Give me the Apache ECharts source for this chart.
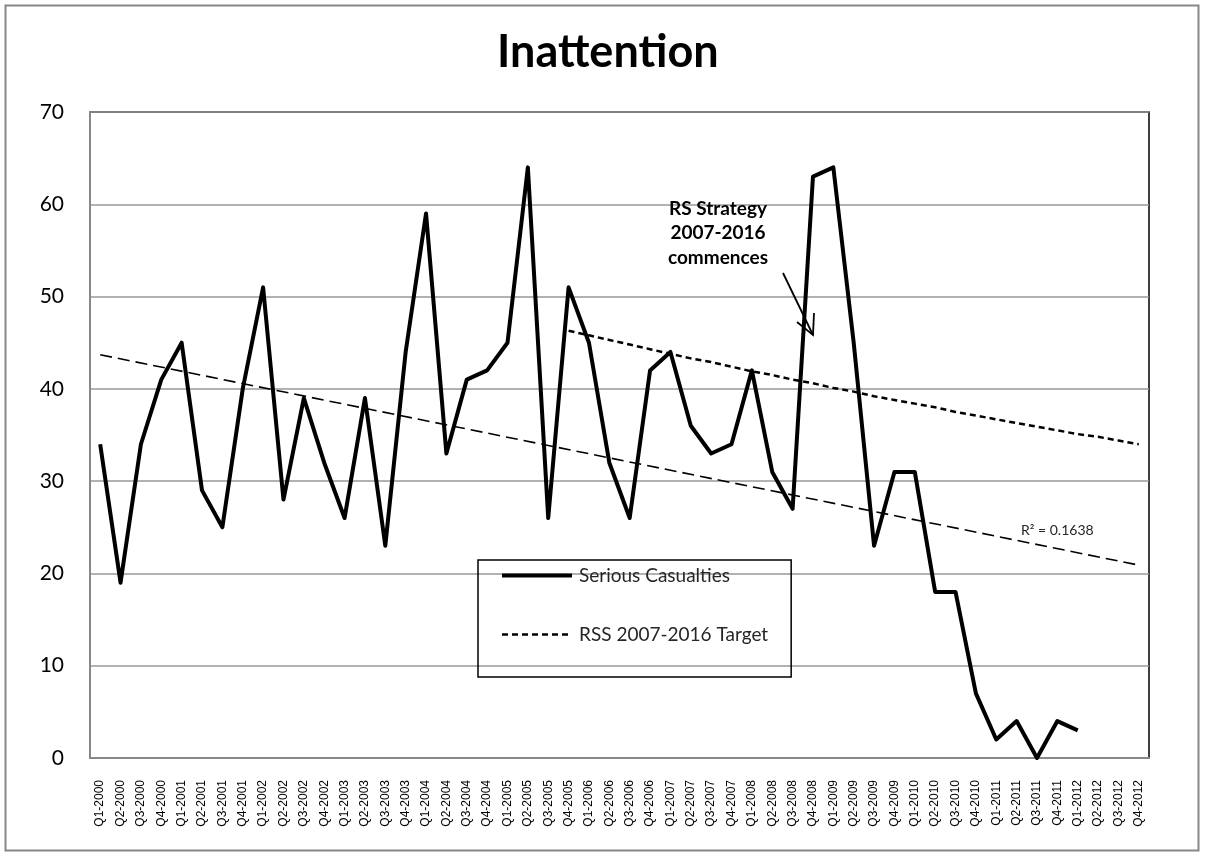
<!DOCTYPE html>
<html>
<head>
<meta charset="utf-8">
<script src="https://cdn.jsdelivr.net/npm/echarts@6/dist/echarts.min.js"></script>
<style>
html,body{margin:0;padding:0;background:#fff;}
#chart{width:1205px;height:857px;}
</style>
</head>
<body>
<div id="chart"></div>
<script>
const categories = ['Q1-2000','Q2-2000','Q3-2000','Q4-2000','Q1-2001','Q2-2001','Q3-2001','Q4-2001',
'Q1-2002','Q2-2002','Q3-2002','Q4-2002','Q1-2003','Q2-2003','Q3-2003','Q4-2003',
'Q1-2004','Q2-2004','Q3-2004','Q4-2004','Q1-2005','Q2-2005','Q3-2005','Q4-2005',
'Q1-2006','Q2-2006','Q3-2006','Q4-2006','Q1-2007','Q2-2007','Q3-2007','Q4-2007',
'Q1-2008','Q2-2008','Q3-2008','Q4-2008','Q1-2009','Q2-2009','Q3-2009','Q4-2009',
'Q1-2010','Q2-2010','Q3-2010','Q4-2010','Q1-2011','Q2-2011','Q3-2011','Q4-2011',
'Q1-2012','Q2-2012','Q3-2012','Q4-2012'];

const seriousCasualties = [34,19,34,41,45,29,25,40,51,28,39,32,26,39,23,44,59,33,41,42,45,64,26,51,45,32,26,42,44,36,33,34,42,31,27,63,64,45,23,31,31,18,18,7,2,4,0,4,3];

// RSS 2007-2016 target, from Q4-2005 to Q4-2012
const targetStart = 'Q4-2005';
const targetValues = [46.3,45.8,45.3,44.8,44.3,43.8,43.3,42.9,42.4,41.9,41.5,41.0,40.6,40.1,39.7,39.2,38.8,38.4,38.0,37.5,37.1,36.7,36.3,35.9,35.5,35.1,34.8,34.4,34.0];

// Linear trendline endpoints (Q1-2000 .. Q4-2012)
const trendEnds = [['Q1-2000', 43.7], ['Q4-2012', 20.9]];
const trendLabel = 'R\u00b2 = 0.1638';

const yTicks = {min: 0, max: 70, interval: 10};

const chartTitle = 'Inattention';
const annotationLines = ['RS Strategy', '2007-2016', 'commences'];

const startIdx = categories.indexOf(targetStart);
const targetData = categories.map((c, i) => (i >= startIdx && i - startIdx < targetValues.length) ? targetValues[i - startIdx] : null);

const chart = echarts.init(document.getElementById('chart'), null, {renderer: 'canvas'});
const mainFont = 'Lato, "Open Sans", sans-serif';

chart.setOption({
  animation: false,
  backgroundColor: '#fff',
  title: {
    text: chartTitle,
    left: 497,
    top: 25,
    padding: [5, 0, 5, 0],
    textStyle: {fontFamily: mainFont, fontSize: 45, fontWeight: 'bold', color: '#000'}
  },
  grid: {left: 90, right: 56, top: 112, bottom: 99, show: true, borderColor: '#000', borderWidth: 1.5, backgroundColor: 'transparent'},
  legend: {
    orient: 'vertical',
    left: 478, top: 560,
    data: [
      {name: 'Serious Casualties', itemStyle: {opacity: 0}, lineStyle: {width: 4, color: '#000'}},
      {name: 'RSS 2007-2016 Target', itemStyle: {opacity: 0}, lineStyle: {width: 2.5, color: '#000', type: [6, 4]}}
    ],
    itemWidth: 70, itemHeight: 14, itemGap: 40,
    padding: [6, 23, 33, 22],
    borderColor: '#000', borderWidth: 1.5,
    selectedMode: false,
    textStyle: {fontFamily: mainFont, fontSize: 19, color: '#262626', padding: [0,0,0,2]}
  },
  xAxis: {
    type: 'category',
    data: categories,
    boundaryGap: true,
    axisLine: {lineStyle: {color: '#888', width: 2}},
    axisTick: {show: false},
    axisLabel: {rotate: 90, interval: 0, fontSize: 12, fontFamily: '"Liberation Sans", Arial, sans-serif', color: '#000', margin: 22}
  },
  yAxis: {
    type: 'value',
    min: yTicks.min, max: yTicks.max, interval: yTicks.interval,
    axisLine: {show: true, lineStyle: {color: '#888', width: 2}},
    axisTick: {show: false},
    splitLine: {lineStyle: {color: '#999', width: 1.5}},
    axisLabel: {fontSize: 21, fontFamily: mainFont, color: '#000', margin: 26}
  },
  series: [
    {
      name: 'Serious Casualties', type: 'line', data: seriousCasualties,
      showSymbol: false, symbol: 'none',
      lineStyle: {color: '#000', width: 4, join: 'round'},
      itemStyle: {color: '#000'},
      z: 5
    },
    {
      name: 'RSS 2007-2016 Target', type: 'line', data: targetData,
      showSymbol: false, symbol: 'none',
      lineStyle: {color: '#000', width: 2.5, type: [6, 4]},
      itemStyle: {color: '#000'},
      z: 4
    },
    {
      name: 'Trend', type: 'line', data: trendEnds,
      showSymbol: false, symbol: 'none',
      lineStyle: {color: '#000', width: 1.6, type: [12, 6]},
      z: 3
    }
  ],
  graphic: [
    {type: 'rect', shape: {x: 5.5, y: 5.5, width: 1193, height: 845}, style: {fill: 'none', stroke: '#888', lineWidth: 2}, z: -1, silent: true},
    {type: 'text', x: 718, y: 233, style: {text: annotationLines.join('\n'), font: 'bold 19px ' + mainFont, fill: '#000', textAlign: 'center', textVerticalAlign: 'middle', lineHeight: 24.5}, z: 10},
    {type: 'polyline', shape: {points: [[783, 273], [813, 335]]}, style: {stroke: '#000', lineWidth: 1.8, fill: 'none'}, z: 10},
    {type: 'polyline', shape: {points: [[797, 322], [813, 335], [814, 313]]}, style: {stroke: '#000', lineWidth: 1.8, fill: 'none'}, z: 10},
    {type: 'text', x: 1021, y: 530, style: {text: trendLabel, font: '14px ' + mainFont, fill: '#262626', textVerticalAlign: 'middle'}, z: 10}
  ]
});
</script>
</body>
</html>
